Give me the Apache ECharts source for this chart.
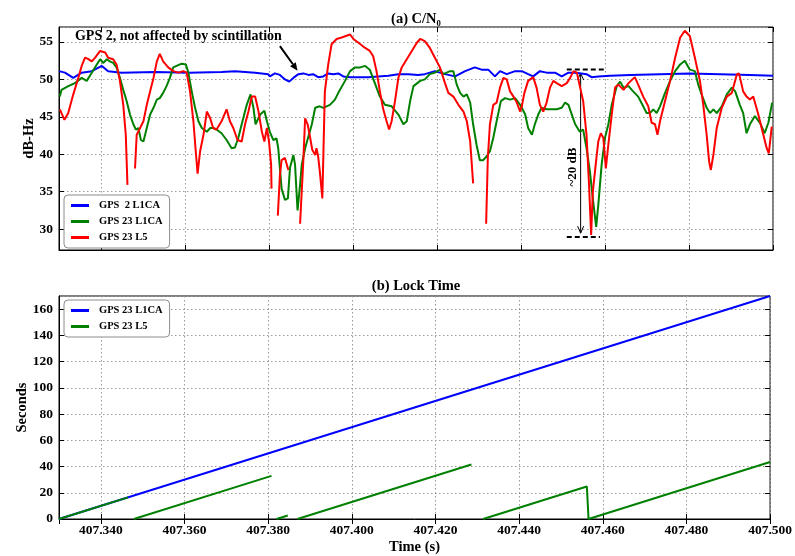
<!DOCTYPE html>
<html>
<head>
<meta charset="utf-8">
<title>C/N0 and Lock Time</title>
<script src="https://cdn.jsdelivr.net/npm/echarts@6/dist/echarts.min.js"></script>
<style>
  html, body { margin: 0; padding: 0; background: #fff; }
  #chart { width: 795px; height: 556px; }
</style>
</head>
<body>
<div id="chart"></div>
<script>
// ---- C/N0 (dB-Hz) versus time (ks) ----
const gps2L1Time = [407.3300,407.3314,407.3334,407.3354,407.3378,407.3402,407.3417,407.3449,407.3529,407.3608,407.3687,407.3719,407.3767,407.3798,407.3802,407.3814,407.3826,407.3838,407.3848,407.3858,407.3870,407.3882,407.3894,407.3905,407.3917,407.3929,407.3941,407.3953,407.3965,407.3977,407.3993,407.4013,407.4036,407.4060,407.4084,407.4108,407.4132,407.4155,407.4171,407.4195,407.4219,407.4243,407.4267,407.4290,407.4306,407.4322,407.4338,407.4350,407.4366,407.4386,407.4402,407.4417,407.4429,407.4445,407.4461,407.4481,407.4497,407.4513,407.4529,407.4544,407.4556,407.4568,407.4584,407.4612,407.4660,407.4731,407.4802,407.4874,407.4945,407.5000];
const gps2L1Cn0 = [51.1,50.9,50.2,50.9,51.1,51.8,51.1,50.9,51.0,50.9,51.0,51.1,50.9,50.7,50.4,50.8,50.6,50.0,49.7,50.2,50.7,50.8,50.6,50.7,50.3,50.4,50.8,50.7,50.8,50.4,50.3,50.3,50.3,50.4,50.5,50.7,50.7,50.6,50.7,51.1,50.7,50.4,51.1,51.6,51.3,51.3,50.4,51.1,50.7,51.1,51.1,50.7,50.4,51.1,50.9,50.9,50.4,50.9,50.9,50.8,50.7,50.3,50.4,50.5,50.6,50.7,50.8,50.7,50.6,50.5];

const gps23L1Time = [407.3302,407.3306,407.3322,407.3338,407.3354,407.3366,407.3378,407.3390,407.3398,407.3405,407.3414,407.3421,407.3429,407.3437,407.3445,407.3453,407.3461,407.3469,407.3477,407.3483,407.3489,407.3495,407.3501,407.3509,407.3517,407.3525,407.3533,407.3540,407.3548,407.3556,407.3564,407.3572,407.3580,407.3592,407.3602,407.3608,407.3616,407.3624,407.3632,407.3640,407.3652,407.3660,407.3667,407.3675,407.3687,407.3699,407.3711,407.3719,407.3727,407.3735,407.3747,407.3756,407.3763,407.3768,407.3779,407.3789,407.3795,407.3802,407.3810,407.3818,407.3822,407.3826,407.3830,407.3838,407.3845,407.3850,407.3858,407.3862,407.3868,407.3874,407.3878,407.3886,407.3894,407.3902,407.3910,407.3921,407.3929,407.3945,407.3957,407.3965,407.3981,407.3993,407.4005,407.4017,407.4029,407.4040,407.4052,407.4064,407.4076,407.4092,407.4108,407.4120,407.4128,407.4136,407.4144,407.4160,407.4171,407.4183,407.4195,407.4207,407.4215,407.4223,407.4231,407.4239,407.4247,407.4255,407.4263,407.4271,407.4279,407.4286,407.4294,407.4302,407.4310,407.4318,407.4326,407.4334,407.4342,407.4352,407.4362,407.4374,407.4386,407.4398,407.4410,407.4417,407.4426,407.4433,407.4441,407.4449,407.4461,407.4473,407.4485,407.4497,407.4505,407.4513,407.4521,407.4529,407.4540,407.4548,407.4556,407.4564,407.4572,407.4579,407.4584,407.4592,407.4600,407.4608,407.4616,407.4628,407.4636,407.4644,407.4656,407.4667,407.4679,407.4691,407.4699,407.4707,407.4715,407.4723,407.4731,407.4743,407.4755,407.4767,407.4779,407.4790,407.4802,407.4814,407.4822,407.4830,407.4842,407.4850,407.4858,407.4866,407.4878,407.4890,407.4902,407.4910,407.4921,407.4929,407.4937,407.4945,407.4957,407.4969,407.4980,407.4989,407.4998];
const gps23L1Cn0 = [47.7,48.6,49.1,49.5,50.2,49.8,50.9,52.0,52.7,52.2,52.7,52.4,52.2,51.6,50.2,48.6,47.1,45.3,44.0,43.3,43.5,41.9,41.7,43.5,45.3,46.2,47.3,47.5,48.2,49.1,50.2,51.6,51.8,52.1,52.0,50.9,48.4,46.2,44.4,43.5,43.0,43.5,43.5,43.3,42.8,41.9,40.8,40.9,42.2,44.0,46.6,48.0,46.2,44.0,45.3,45.8,44.4,43.0,41.9,42.1,40.8,38.1,35.4,33.9,34.1,38.2,39.9,38.6,32.5,35.9,38.6,40.8,42.4,44.0,46.2,46.4,46.2,46.6,47.3,48.2,49.8,51.1,51.6,51.6,51.8,51.3,49.5,47.7,46.6,46.4,45.3,44.0,44.4,47.1,49.1,49.8,50.0,50.7,50.9,51.3,50.7,50.9,51.1,51.1,49.3,48.2,47.7,48.0,46.9,44.0,41.3,39.2,39.2,39.7,40.4,42.2,44.4,47.1,47.5,47.3,47.5,46.6,45.3,43.5,42.6,44.0,45.3,46.2,46.0,46.0,46.0,46.2,46.9,46.6,45.3,44.0,43.0,43.3,40.8,37.7,33.6,30.3,33.2,38.6,42.2,44.0,46.6,49.1,49.7,48.9,49.1,48.4,47.7,46.4,45.5,45.5,46.0,45.5,46.4,48.2,49.8,51.1,52.0,52.5,51.3,51.1,49.3,48.0,46.2,45.5,46.0,45.5,46.4,48.0,48.9,48.4,46.6,45.5,42.8,44.0,45.1,44.2,42.8,44.2,46.9];

// null marks a loss of lock: the trace is broken there
const gps23L5Time = [407.3302,407.3313,407.3322,407.3334,407.3346,407.3354,407.3362,407.3370,407.3378,407.3386,407.3398,407.3410,407.3417,407.3429,407.3437,407.3445,407.3453,407.3459,407.3463,407.3470,407.3481,407.3485,407.3493,407.3501,407.3509,407.3517,407.3525,407.3533,407.3540,407.3548,407.3560,407.3572,407.3584,407.3596,407.3604,407.3612,407.3620,407.3625,407.3630,407.3636,407.3644,407.3652,407.3660,407.3667,407.3675,407.3687,407.3699,407.3707,407.3715,407.3725,407.3735,407.3743,407.3751,407.3759,407.3767,407.3775,407.3783,407.3789,407.3795,407.3800,407.3805,407.3806,407.3812,407.3821,407.3826,407.3830,407.3838,407.3846,407.3860,407.3874,407.3882,407.3886,407.3892,407.3898,407.3903,407.3910,407.3913,407.3917,407.3921,407.3927,407.3933,407.3941,407.3949,407.3961,407.3973,407.3993,407.4001,407.4013,407.4029,407.4040,407.4048,407.4056,407.4064,407.4072,407.4080,407.4086,407.4092,407.4100,407.4108,407.4116,407.4128,407.4140,407.4152,407.4160,407.4171,407.4183,407.4195,407.4207,407.4219,407.4227,407.4239,407.4251,407.4263,407.4271,407.4279,407.4286,407.4300,407.4317,407.4321,407.4326,407.4334,407.4342,407.4350,407.4358,407.4366,407.4374,407.4382,407.4390,407.4398,407.4402,407.4408,407.4417,407.4429,407.4437,407.4445,407.4453,407.4461,407.4469,407.4477,407.4485,407.4497,407.4509,407.4517,407.4525,407.4533,407.4540,407.4548,407.4556,407.4562,407.4567,407.4571,407.4580,407.4584,407.4590,407.4596,407.4602,407.4608,407.4616,407.4624,407.4632,407.4644,407.4656,407.4671,407.4679,407.4691,407.4703,407.4711,407.4719,407.4725,407.4731,407.4743,407.4755,407.4767,407.4779,407.4790,407.4802,407.4814,407.4826,407.4834,407.4842,407.4848,407.4852,407.4858,407.4866,407.4878,407.4890,407.4902,407.4914,407.4919,407.4929,407.4937,407.4945,407.4953,407.4965,407.4977,407.4985,407.4990,407.4997];
const gps23L5Cn0 = [46.0,44.6,45.5,48.0,50.2,51.8,52.9,52.7,52.4,52.9,53.8,53.6,52.9,52.7,52.0,49.8,46.6,42.6,35.9,null,38.1,42.6,43.5,44.4,46.6,48.4,50.2,52.4,53.4,52.4,51.6,51.1,50.9,51.1,50.9,48.4,44.4,40.8,37.4,40.4,42.6,45.7,44.8,43.5,43.3,44.4,46.0,44.4,43.5,41.9,41.7,44.0,45.7,47.7,47.7,45.7,43.0,41.7,43.5,41.7,38.6,35.4,null,31.8,37.2,39.2,39.5,37.9,null,30.7,39.5,44.8,44.0,42.2,40.6,39.9,40.8,39.7,37.7,34.1,48.4,52.0,54.7,55.4,55.6,56.0,55.4,54.9,54.2,53.8,53.1,51.1,48.4,46.0,44.4,43.3,44.4,47.1,50.2,51.6,52.7,53.8,54.9,55.4,55.1,54.2,52.9,51.6,49.5,48.2,47.7,46.6,45.7,44.4,41.7,36.1,null,30.7,39.5,44.0,46.6,46.9,48.9,50.2,50.0,48.4,47.7,46.9,45.7,46.4,48.2,49.8,50.3,48.9,46.6,45.7,46.9,48.9,49.8,49.5,49.1,49.5,50.2,51.1,50.9,49.1,47.1,42.6,35.9,29.2,35.0,39.7,41.7,42.8,42.2,38.1,41.3,45.3,48.9,49.3,48.6,49.5,50.3,49.3,47.7,46.4,44.2,44.0,42.6,44.4,47.1,49.8,52.9,55.6,56.5,55.8,52.9,49.8,46.6,42.6,39.0,37.9,39.9,43.5,46.2,47.7,48.2,50.7,50.8,48.4,47.7,47.3,47.7,45.3,42.6,40.8,40.1,43.7];

// ---- Lock time (s) versus time (ks) ----
const lockL1Time = [407.3300, 407.5000];
const lockL1Sec  = [0, 170];
const lockL5Time = [407.3300,407.3465,407.3472,407.3479,407.3808,407.3814,407.3820,407.3847,407.3858,407.3870,407.4286,407.4300,407.4314,407.4562,407.4566,407.5000];
const lockL5Sec  = [0,16.5,null,0,32.9,null,0,2.7,null,0,41.6,null,0,24.8,0,43.4];

// ---- Axis ranges ----
const timeRange = [407.33, 407.50];
const cn0Range = [27.2, 57.0];
const lockRange = [0, 170];

// ---- Annotation anchors (data space of the C/N0 panel) ----
const noteText = 'GPS 2, not affected by scintillation';
const noteAnchor = [407.3338, 55.75];
const noteArrow = [[407.3826, 54.45], [407.3868, 51.15]];
const fadeTopLevel = [[407.4509, 407.4602], 51.33];
const fadeBottomLevel = [[407.4509, 407.4588], 28.93];
const fadeArrow = [407.4542, 50.85, 29.45];
const fadeText = '~20 dB';
const fadeTextAnchor = [407.4524, 38.3];

const FONT = '"Liberation Serif", "Times New Roman", serif';
const BLUE = '#0000ff', GREEN = '#008000', RED = '#ff0000';

const zip = (ts, vs) => ts.map((t, i) => [t, vs[i] == null ? '-' : vs[i]]);

const gridLine = { show: true, lineStyle: { color: '#9a9a9a', type: [1.5, 2.5], width: 1 } };
const tickIn = { show: true, inside: true, length: 5, lineStyle: { color: '#000', width: 1 } };
const axisLineBlack = { show: true, lineStyle: { color: '#000', width: 1 } };
const tickLabel = { color: '#000', fontFamily: FONT, fontWeight: 'bold', fontSize: 13.5 };
const axisName = { color: '#000', fontFamily: FONT, fontWeight: 'bold', fontSize: 14.5 };

// mirrored tick marks on the top / right frame edges
const mirrorX = (gi) => ({ type: 'value', gridIndex: gi, position: 'top', min: timeRange[0], max: timeRange[1],
  splitNumber: 8, axisLine: { show: false }, axisTick: tickIn, axisLabel: { show: false }, splitLine: { show: false } });
const mirrorY = (gi, extra) => Object.assign({ type: 'value', gridIndex: gi, position: 'right',
  axisLine: { show: false }, axisTick: tickIn, axisLabel: { show: false }, splitLine: { show: false } }, extra);

function lineSeries(name, color, data, xi, yi) {
  return {
    name, type: 'line', xAxisIndex: xi, yAxisIndex: yi, data,
    color, showSymbol: false, symbol: 'none', connectNulls: false,
    lineStyle: { color, width: 2 }, itemStyle: { color },
    animation: false, silent: true
  };
}

const legendBase = {
  orient: 'vertical', left: 64, icon: 'rect', itemWidth: 18, itemHeight: 3, itemGap: 5,
  selectedMode: false, backgroundColor: '#fff', borderColor: '#8c8c8c', borderWidth: 1,
  borderRadius: 4, padding: [5, 7, 5, 7],
  textStyle: { color: '#000', fontFamily: FONT, fontWeight: 'bold', fontSize: 10.5, padding: [0, 0, 0, 5] }
};

const chart = echarts.init(document.getElementById('chart'), null, { renderer: 'canvas' });

const option = {
  backgroundColor: '#fff',
  animation: false,
  grid: [
    { left: 59, right: 22, top: 27, height: 223, show: true, borderColor: '#000', borderWidth: 1, backgroundColor: 'transparent' },
    { left: 59, right: 22, top: 296, height: 223, show: true, borderColor: '#000', borderWidth: 1, backgroundColor: 'transparent' }
  ],
  xAxis: [
    { type: 'value', gridIndex: 0, min: timeRange[0], max: timeRange[1], splitNumber: 8,
      axisLine: axisLineBlack, axisTick: tickIn, axisLabel: { show: false }, splitLine: gridLine },
    { type: 'value', gridIndex: 1, min: timeRange[0], max: timeRange[1], splitNumber: 8,
      axisLine: axisLineBlack, axisTick: tickIn, splitLine: gridLine,
      axisLabel: Object.assign({ margin: 5, showMinLabel: false, formatter: v => v.toFixed(3) }, tickLabel),
      name: 'Time (s)', nameLocation: 'middle', nameGap: 21, nameMoveOverlap: false, nameTextStyle: axisName },
    mirrorX(0),
    mirrorX(1)
  ],
  yAxis: [
    { type: 'value', gridIndex: 0, min: cn0Range[0], max: cn0Range[1], splitNumber: 5,
      axisLine: axisLineBlack, axisTick: tickIn, splitLine: gridLine,
      axisLabel: Object.assign({ margin: 6, showMinLabel: false, showMaxLabel: false }, tickLabel),
      name: 'dB-Hz', nameLocation: 'middle', nameGap: 22, nameMoveOverlap: false, nameTextStyle: axisName },
    { type: 'value', gridIndex: 1, min: lockRange[0], max: lockRange[1], interval: 20,
      axisLine: axisLineBlack, axisTick: tickIn, splitLine: gridLine,
      axisLabel: Object.assign({ margin: 6, showMaxLabel: false }, tickLabel),
      name: 'Seconds', nameLocation: 'middle', nameGap: 29.5, nameMoveOverlap: false, nameTextStyle: axisName },
    mirrorY(0, { min: cn0Range[0], max: cn0Range[1], splitNumber: 5 }),
    mirrorY(1, { min: lockRange[0], max: lockRange[1], interval: 20 })
  ],
  legend: [
    Object.assign({ top: 195, data: ['GPS  2 L1CA', 'GPS 23 L1CA', 'GPS 23 L5'] }, legendBase),
    Object.assign({ top: 300, data: ['GPS 23 L1CA lock', 'GPS 23 L5 lock'],
      formatter: n => n.replace(' lock', '') }, legendBase)
  ],
  series: [
    lineSeries('GPS  2 L1CA', BLUE, zip(gps2L1Time, gps2L1Cn0), 0, 0),
    lineSeries('GPS 23 L1CA', GREEN, zip(gps23L1Time, gps23L1Cn0), 0, 0),
    lineSeries('GPS 23 L5', RED, zip(gps23L5Time, gps23L5Cn0), 0, 0),
    lineSeries('GPS 23 L1CA lock', BLUE, zip(lockL1Time, lockL1Sec), 1, 1),
    lineSeries('GPS 23 L5 lock', GREEN, zip(lockL5Time, lockL5Sec), 1, 1)
  ]
};
chart.setOption(option);

// ---- Titles and annotations, placed from data coordinates ----
const px = (t, v) => chart.convertToPixel({ xAxisIndex: 0, yAxisIndex: 0 }, [t, v]);
const textEl = (text, x, y, size, extra) => Object.assign({
  type: 'text', x, y, silent: true,
  style: { text, fill: '#000', fontFamily: FONT, fontWeight: 'bold', fontSize: size,
           align: 'center', verticalAlign: 'middle', textAlign: 'center', textVerticalAlign: 'middle' }
}, extra || {});

const graphics = [];
const topLeft = px(timeRange[0], cn0Range[1]);
const topRight = px(timeRange[1], cn0Range[1]);
const midX = (topLeft[0] + topRight[0]) / 2;
graphics.push(textEl('(a) C/N\u2080', midX, 19.5, 14.5));
graphics.push(textEl('(b) Lock Time', midX, 286, 14.5));

// note about GPS 2
const np = px(noteAnchor[0], noteAnchor[1]);
const noteEl = textEl(noteText, np[0], np[1], 14);
noteEl.style.align = 'left'; noteEl.style.textAlign = 'left';
graphics.push(noteEl);
const a0 = px(noteArrow[0][0], noteArrow[0][1]);
const a1 = px(noteArrow[1][0], noteArrow[1][1]);
const ang = Math.atan2(a1[1] - a0[1], a1[0] - a0[0]);
const headLen = 8, headW = 3.5;
const hb = [a1[0] - headLen * Math.cos(ang), a1[1] - headLen * Math.sin(ang)];
graphics.push({ type: 'line', silent: true, shape: { x1: a0[0], y1: a0[1], x2: hb[0], y2: hb[1] },
  style: { stroke: '#000', lineWidth: 2 } });
graphics.push({ type: 'polygon', silent: true, shape: { points: [
  a1,
  [hb[0] + headW * Math.sin(ang), hb[1] - headW * Math.cos(ang)],
  [hb[0] - headW * Math.sin(ang), hb[1] + headW * Math.cos(ang)]
] }, style: { fill: '#000' } });

// fade depth markers
[fadeTopLevel, fadeBottomLevel].forEach(([ts, v]) => {
  const p0 = px(ts[0], v), p1 = px(ts[1], v);
  graphics.push({ type: 'line', silent: true, shape: { x1: p0[0], y1: p0[1], x2: p1[0], y2: p1[1] },
    style: { stroke: '#000', lineWidth: 2, lineDash: [5, 3] } });
});
const ft = px(fadeArrow[0], fadeArrow[1]);
const fb = px(fadeArrow[0], fadeArrow[2]);
graphics.push({ type: 'line', silent: true, shape: { x1: ft[0], y1: ft[1], x2: fb[0], y2: fb[1] },
  style: { stroke: '#000', lineWidth: 1 } });
graphics.push({ type: 'polyline', silent: true, shape: { points: [[ft[0] - 3, ft[1] + 7], ft, [ft[0] + 3, ft[1] + 7]] },
  style: { stroke: '#000', lineWidth: 1, fill: null } });
graphics.push({ type: 'polyline', silent: true, shape: { points: [[fb[0] - 3, fb[1] - 7], fb, [fb[0] + 3, fb[1] - 7]] },
  style: { stroke: '#000', lineWidth: 1, fill: null } });
const fl = px(fadeTextAnchor[0], fadeTextAnchor[1]);
graphics.push(textEl(fadeText, fl[0], fl[1], 13, { rotation: Math.PI / 2 }));

chart.setOption({ graphic: graphics });
</script>
</body>
</html>
